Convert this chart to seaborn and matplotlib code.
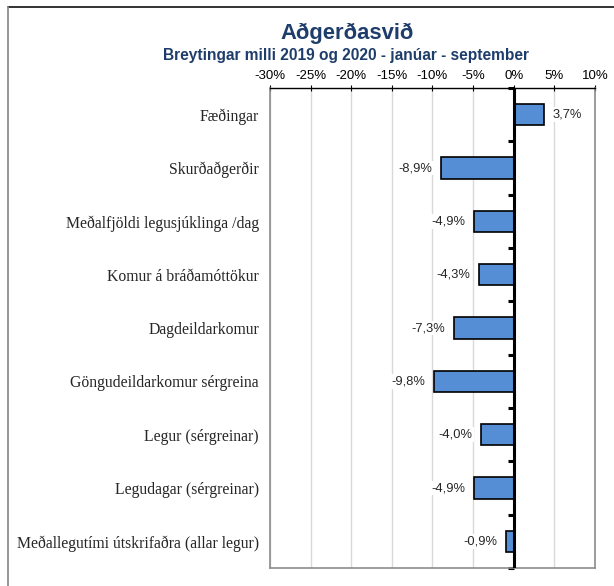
import matplotlib
matplotlib.use("Agg")
import matplotlib.pyplot as plt
from matplotlib.lines import Line2D
from matplotlib.ticker import FuncFormatter
import seaborn as sns
import pandas as pd

# data
categories = ["Fæðingar", "Skurðaðgerðir", "Meðalfjöldi legusjúklinga /dag",
              "Komur á bráðamóttökur", "Dagdeildarkomur",
              "Göngudeildarkomur sérgreina", "Legur (sérgreinar)",
              "Legudagar (sérgreinar)", "Meðallegutími útskrifaðra (allar legur)"]
changes = [3.7, -8.9, -4.9, -4.3, -7.3, -9.8, -4.0, -4.9, -0.9]
x_ticks = [-30, -25, -20, -15, -10, -5, 0, 5, 10]

df = pd.DataFrame({"flokkur": categories, "breyting": changes})

sns.set_style("white")
plt.rcParams["font.family"] = ["Liberation Sans", "DejaVu Sans"]

fig = plt.figure(figsize=(6.14, 5.86), dpi=100)
ax = fig.add_axes([0.4397, 0.0307, 0.5293, 0.8191])

sns.barplot(data=df, x="breyting", y="flokkur", orient="h", color="#558ED5",
            saturation=1, edgecolor="black", linewidth=1.2, width=0.4, ax=ax)

ax.set_xlim(-30, 10)
ax.set_ylim(len(categories) - 0.5, -0.5)
ax.set_xticks(x_ticks)
ax.xaxis.set_major_formatter(FuncFormatter(lambda v, p: f"{v:.0f}%"))
ax.xaxis.tick_top()
ax.tick_params(axis="x", direction="inout", length=5, width=0.8, pad=2,
               labelsize=9.5, colors="black")
ax.tick_params(axis="y", length=0, pad=8)
for lab in ax.get_yticklabels():
    lab.set_fontfamily(["Liberation Serif", "DejaVu Serif"])
    lab.set_fontsize(11.3)
ax.set_xlabel("")
ax.set_ylabel("")
ax.grid(axis="x", color="#d9d9d9", linewidth=1)
ax.set_axisbelow(True)

for side in ["left", "right", "bottom"]:
    ax.spines[side].set_color("#8c8c8c")
    ax.spines[side].set_linewidth(1.2)
ax.spines["top"].set_color("black")
ax.spines["top"].set_linewidth(1)

# zero line with ticks between categories
ax.axvline(0, color="black", linewidth=2.2, zorder=5)
sec = ax.secondary_yaxis(0.75)
sec.set_yticks([i + 0.5 for i in range(-1, len(categories))])
sec.set_yticklabels([])
sec.tick_params(axis="y", direction="in", length=4, width=2.2, color="black")
for s in sec.spines.values():
    s.set_visible(False)

# data labels
for i, v in enumerate(changes):
    txt = f"{v:.1f}%".replace(".", ",")
    if v >= 0:
        ax.text(v + 1.1, i, txt, va="center", ha="left", fontsize=9.3,
                bbox=dict(facecolor="white", edgecolor="none", pad=1))
    else:
        ax.text(v - 1.1, i, txt, va="center", ha="right", fontsize=9.3,
                bbox=dict(facecolor="white", edgecolor="none", pad=1))

# titles
fig.text(0.565, 0.943, "Aðgerðasvið", ha="center", va="center",
         fontsize=15.8, fontweight="bold", color="#1F3D6B")
fig.text(0.564, 0.905, "Breytingar milli 2019 og 2020 - janúar - september",
         ha="center", va="center", fontsize=11.2, fontweight="bold", color="#1F3D6B")

# outer frame (cropped)
fig.add_artist(Line2D([8 / 614, 1], [1 - 7 / 586, 1 - 7 / 586],
                      transform=fig.transFigure, color="#222222", linewidth=1.3))
fig.add_artist(Line2D([8 / 614, 8 / 614], [0, 1 - 7 / 586],
                      transform=fig.transFigure, color="#8c8c8c", linewidth=1.3))

fig.savefig("out.png", dpi=100)
